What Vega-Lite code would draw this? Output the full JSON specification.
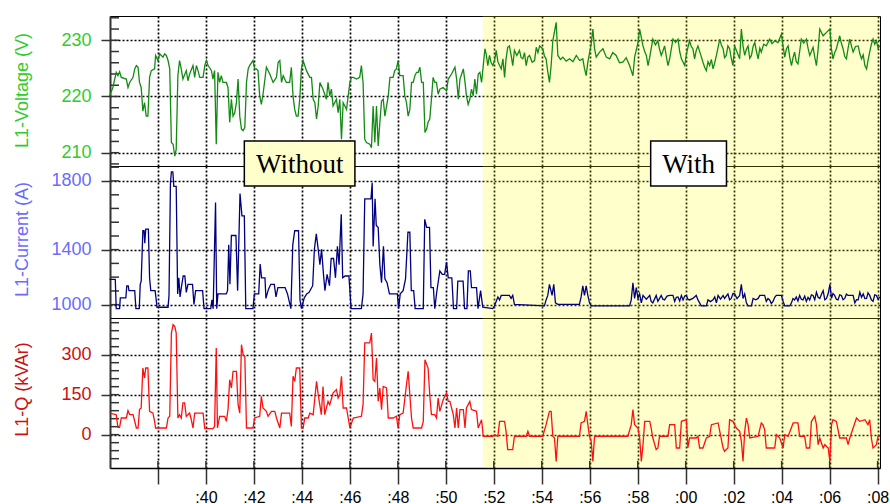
{
"$schema":"https://vega.github.io/schema/vega-lite/v6.json",
"padding":{"left":12,"top":15,"right":0,"bottom":0},
"spacing":0,
"bounds":"flush",
"config":{
 "view":{"stroke":"#000","strokeWidth":1},
 "axis":{"gridColor":"#000","gridDash":[2,2],"gridWidth":1.7,"gridOpacity":1,"domainColor":"#333","tickColor":"#333","tickWidth":1.5,"labelFont":"Liberation Sans","titleFont":"Liberation Sans","titleFontWeight":"normal","labelFontSize":18,"titleFontSize":18,"labelFlush":false}
},
"datasets":{
"volt":[{"t":35.98,"v":220.1},{"t":36.12,"v":221.6},{"t":36.26,"v":224.3},{"t":36.33,"v":223.7},{"t":36.40,"v":224.4},{"t":36.47,"v":223.4},{"t":36.68,"v":223.1},{"t":36.75,"v":221.6},{"t":36.82,"v":222.5},{"t":36.96,"v":223.4},{"t":37.03,"v":224.9},{"t":37.10,"v":225.5},{"t":37.17,"v":225.2},{"t":37.23,"v":222.5},{"t":37.30,"v":221.6},{"t":37.37,"v":217.4},{"t":37.44,"v":218.9},{"t":37.51,"v":216.5},{"t":37.58,"v":216.5},{"t":37.65,"v":223.4},{"t":37.72,"v":224.6},{"t":37.86,"v":224.9},{"t":37.90,"v":227.3},{"t":38.00,"v":226.4},{"t":38.07,"v":227.6},{"t":38.21,"v":227.0},{"t":38.28,"v":227.6},{"t":38.35,"v":227.3},{"t":38.42,"v":226.4},{"t":38.49,"v":224.9},{"t":38.56,"v":211.8},{"t":38.63,"v":211.5},{"t":38.70,"v":209.4},{"t":38.76,"v":210.6},{"t":38.83,"v":223.7},{"t":38.90,"v":226.4},{"t":38.97,"v":224.9},{"t":39.04,"v":223.1},{"t":39.18,"v":224.6},{"t":39.25,"v":222.8},{"t":39.32,"v":224.0},{"t":39.46,"v":225.5},{"t":39.53,"v":223.4},{"t":39.60,"v":225.5},{"t":39.67,"v":224.6},{"t":39.74,"v":223.4},{"t":39.88,"v":223.4},{"t":39.95,"v":225.5},{"t":40.02,"v":226.4},{"t":40.09,"v":225.5},{"t":40.23,"v":224.6},{"t":40.29,"v":223.1},{"t":40.36,"v":224.6},{"t":40.43,"v":211.5},{"t":40.50,"v":224.3},{"t":40.57,"v":222.5},{"t":40.64,"v":223.7},{"t":40.71,"v":222.5},{"t":40.85,"v":222.5},{"t":40.92,"v":221.6},{"t":40.99,"v":215.4},{"t":41.06,"v":219.5},{"t":41.13,"v":216.5},{"t":41.20,"v":217.1},{"t":41.27,"v":218.9},{"t":41.34,"v":223.1},{"t":41.41,"v":216.5},{"t":41.48,"v":214.2},{"t":41.55,"v":213.9},{"t":41.62,"v":214.5},{"t":41.69,"v":222.5},{"t":41.76,"v":224.9},{"t":41.82,"v":225.5},{"t":41.96,"v":226.4},{"t":42.03,"v":224.9},{"t":42.10,"v":224.9},{"t":42.17,"v":224.6},{"t":42.24,"v":220.1},{"t":42.31,"v":218.6},{"t":42.38,"v":220.4},{"t":42.52,"v":225.2},{"t":42.66,"v":224.0},{"t":42.80,"v":222.5},{"t":42.94,"v":223.4},{"t":43.01,"v":226.1},{"t":43.08,"v":226.4},{"t":43.15,"v":222.5},{"t":43.22,"v":223.7},{"t":43.35,"v":222.5},{"t":43.49,"v":222.5},{"t":43.56,"v":225.2},{"t":43.63,"v":220.1},{"t":43.70,"v":217.7},{"t":43.77,"v":216.5},{"t":43.84,"v":216.5},{"t":43.91,"v":219.5},{"t":43.98,"v":224.9},{"t":44.05,"v":226.4},{"t":44.19,"v":224.6},{"t":44.33,"v":223.4},{"t":44.40,"v":223.4},{"t":44.47,"v":219.5},{"t":44.54,"v":218.9},{"t":44.61,"v":216.0},{"t":44.68,"v":218.3},{"t":44.75,"v":222.5},{"t":44.88,"v":221.3},{"t":45.02,"v":219.5},{"t":45.09,"v":222.5},{"t":45.16,"v":220.1},{"t":45.23,"v":221.3},{"t":45.30,"v":218.3},{"t":45.44,"v":219.5},{"t":45.51,"v":217.1},{"t":45.58,"v":219.5},{"t":45.65,"v":212.4},{"t":45.72,"v":218.9},{"t":45.79,"v":218.3},{"t":45.86,"v":217.7},{"t":45.93,"v":220.1},{"t":46.00,"v":222.5},{"t":46.07,"v":223.4},{"t":46.14,"v":223.4},{"t":46.28,"v":223.1},{"t":46.41,"v":223.4},{"t":46.48,"v":225.5},{"t":46.55,"v":222.5},{"t":46.62,"v":212.4},{"t":46.69,"v":211.8},{"t":46.83,"v":211.5},{"t":46.90,"v":210.9},{"t":46.97,"v":218.3},{"t":47.04,"v":211.8},{"t":47.11,"v":218.3},{"t":47.18,"v":211.2},{"t":47.25,"v":215.4},{"t":47.32,"v":219.2},{"t":47.39,"v":219.5},{"t":47.46,"v":216.5},{"t":47.53,"v":218.3},{"t":47.60,"v":220.1},{"t":47.67,"v":223.4},{"t":47.80,"v":223.4},{"t":47.87,"v":224.6},{"t":47.94,"v":224.9},{"t":48.01,"v":226.4},{"t":48.08,"v":223.7},{"t":48.22,"v":223.7},{"t":48.29,"v":220.1},{"t":48.36,"v":218.9},{"t":48.43,"v":216.5},{"t":48.50,"v":217.7},{"t":48.57,"v":222.5},{"t":48.64,"v":222.5},{"t":48.71,"v":223.7},{"t":48.78,"v":224.3},{"t":48.85,"v":224.3},{"t":48.92,"v":225.2},{"t":48.99,"v":222.5},{"t":49.06,"v":222.5},{"t":49.13,"v":213.6},{"t":49.20,"v":214.2},{"t":49.26,"v":215.4},{"t":49.33,"v":216.0},{"t":49.40,"v":219.5},{"t":49.47,"v":223.4},{"t":49.54,"v":222.5},{"t":49.61,"v":222.5},{"t":49.68,"v":220.4},{"t":49.75,"v":221.3},{"t":49.89,"v":221.6},{"t":50.03,"v":221.0},{"t":50.10,"v":223.1},{"t":50.24,"v":224.0},{"t":50.38,"v":225.2},{"t":50.45,"v":223.1},{"t":50.52,"v":219.5},{"t":50.59,"v":223.1},{"t":50.73,"v":224.9},{"t":50.80,"v":222.5},{"t":50.86,"v":220.1},{"t":50.93,"v":218.6},{"t":51.00,"v":219.5},{"t":51.07,"v":221.3},{"t":51.14,"v":220.1},{"t":51.21,"v":223.1},{"t":51.28,"v":220.4},{"t":51.35,"v":224.0},{"t":51.42,"v":224.3},{"t":51.49,"v":222.5},{"t":51.56,"v":225.5},{"t":51.63,"v":228.5},{"t":51.68,"v":227.6},{"t":51.75,"v":225.5},{"t":51.82,"v":227.3},{"t":51.89,"v":226.0},{"t":51.96,"v":225.5},{"t":52.03,"v":226.4},{"t":52.10,"v":228.2},{"t":52.17,"v":226.2},{"t":52.24,"v":225.5},{"t":52.31,"v":224.9},{"t":52.38,"v":226.7},{"t":52.45,"v":223.4},{"t":52.51,"v":226.7},{"t":52.58,"v":228.75},{"t":52.65,"v":229.0},{"t":52.72,"v":227.4},{"t":52.79,"v":225.5},{"t":52.86,"v":228.2},{"t":52.96,"v":227.3},{"t":53.07,"v":228.2},{"t":53.14,"v":226.9},{"t":53.21,"v":226.7},{"t":53.28,"v":227.8},{"t":53.35,"v":225.5},{"t":53.42,"v":227.0},{"t":53.49,"v":227.3},{"t":53.60,"v":226.1},{"t":53.70,"v":226.4},{"t":53.77,"v":228.75},{"t":53.84,"v":227.8},{"t":53.91,"v":229.0},{"t":54.04,"v":228.5},{"t":54.11,"v":227.2},{"t":54.18,"v":226.7},{"t":54.25,"v":224.4},{"t":54.32,"v":222.5},{"t":54.39,"v":225.5},{"t":54.46,"v":229.9},{"t":54.60,"v":233.2},{"t":54.67,"v":227.3},{"t":54.78,"v":226.6},{"t":54.88,"v":227.0},{"t":55.02,"v":226.3},{"t":55.16,"v":226.7},{"t":55.30,"v":226.2},{"t":55.44,"v":227.3},{"t":55.58,"v":226.4},{"t":55.71,"v":226.7},{"t":55.78,"v":225.0},{"t":55.85,"v":223.7},{"t":55.92,"v":226.1},{"t":56.06,"v":229.3},{"t":56.13,"v":232.0},{"t":56.20,"v":228.5},{"t":56.27,"v":227.0},{"t":56.41,"v":227.9},{"t":56.55,"v":228.5},{"t":56.69,"v":227.0},{"t":56.83,"v":226.7},{"t":56.96,"v":227.8},{"t":57.10,"v":227.3},{"t":57.24,"v":226.0},{"t":57.38,"v":226.1},{"t":57.52,"v":226.9},{"t":57.66,"v":225.5},{"t":57.73,"v":224.6},{"t":57.80,"v":223.7},{"t":57.87,"v":227.0},{"t":58.01,"v":229.6},{"t":58.08,"v":232.0},{"t":58.22,"v":229.0},{"t":58.29,"v":228.0},{"t":58.36,"v":227.3},{"t":58.43,"v":225.5},{"t":58.50,"v":227.0},{"t":58.63,"v":230.2},{"t":58.74,"v":229.2},{"t":58.84,"v":229.9},{"t":58.91,"v":228.4},{"t":58.98,"v":227.3},{"t":59.05,"v":228.1},{"t":59.12,"v":229.0},{"t":59.19,"v":227.2},{"t":59.26,"v":225.5},{"t":59.33,"v":226.7},{"t":59.47,"v":230.2},{"t":59.58,"v":229.6},{"t":59.68,"v":230.2},{"t":59.75,"v":228.0},{"t":59.82,"v":226.7},{"t":59.96,"v":225.5},{"t":60.03,"v":227.6},{"t":60.16,"v":229.9},{"t":60.23,"v":228.9},{"t":60.30,"v":228.5},{"t":60.37,"v":226.7},{"t":60.44,"v":228.2},{"t":60.51,"v":229.0},{"t":60.62,"v":227.5},{"t":60.72,"v":226.1},{"t":60.79,"v":225.2},{"t":60.86,"v":224.6},{"t":60.93,"v":226.2},{"t":61.00,"v":225.5},{"t":61.07,"v":226.6},{"t":61.14,"v":224.9},{"t":61.21,"v":226.0},{"t":61.28,"v":227.3},{"t":61.42,"v":230.2},{"t":61.49,"v":229.1},{"t":61.56,"v":228.5},{"t":61.62,"v":226.9},{"t":61.69,"v":227.3},{"t":61.76,"v":229.0},{"t":61.83,"v":228.5},{"t":61.90,"v":226.8},{"t":61.97,"v":225.5},{"t":62.04,"v":229.0},{"t":62.14,"v":227.9},{"t":62.25,"v":226.7},{"t":62.32,"v":232.0},{"t":62.39,"v":229.0},{"t":62.46,"v":227.3},{"t":62.53,"v":228.4},{"t":62.60,"v":229.0},{"t":62.67,"v":226.8},{"t":62.74,"v":227.3},{"t":62.81,"v":228.9},{"t":62.88,"v":229.6},{"t":62.95,"v":228.0},{"t":63.02,"v":226.7},{"t":63.09,"v":228.6},{"t":63.15,"v":227.9},{"t":63.25,"v":229.3},{"t":63.36,"v":229.0},{"t":63.50,"v":230.2},{"t":63.60,"v":229.4},{"t":63.71,"v":229.9},{"t":63.85,"v":229.6},{"t":63.99,"v":231.1},{"t":64.06,"v":228.9},{"t":64.13,"v":227.0},{"t":64.20,"v":228.5},{"t":64.27,"v":229.0},{"t":64.34,"v":226.9},{"t":64.41,"v":225.5},{"t":64.48,"v":227.0},{"t":64.54,"v":227.9},{"t":64.61,"v":226.2},{"t":64.68,"v":225.8},{"t":64.75,"v":228.0},{"t":64.82,"v":230.2},{"t":64.92,"v":229.5},{"t":65.03,"v":230.2},{"t":65.10,"v":228.6},{"t":65.17,"v":227.3},{"t":65.24,"v":228.0},{"t":65.31,"v":228.75},{"t":65.38,"v":227.0},{"t":65.45,"v":225.5},{"t":65.52,"v":228.4},{"t":65.59,"v":232.0},{"t":65.73,"v":230.8},{"t":65.87,"v":231.4},{"t":66.01,"v":232.0},{"t":66.07,"v":228.6},{"t":66.14,"v":226.7},{"t":66.21,"v":227.8},{"t":66.28,"v":228.5},{"t":66.42,"v":230.8},{"t":66.49,"v":229.5},{"t":66.56,"v":228.5},{"t":66.63,"v":227.1},{"t":66.70,"v":226.7},{"t":66.77,"v":228.6},{"t":66.84,"v":230.2},{"t":66.91,"v":229.0},{"t":66.98,"v":227.9},{"t":67.08,"v":228.9},{"t":67.19,"v":229.0},{"t":67.26,"v":227.6},{"t":67.33,"v":226.7},{"t":67.40,"v":227.4},{"t":67.47,"v":225.5},{"t":67.54,"v":224.9},{"t":67.60,"v":226.4},{"t":67.67,"v":227.9},{"t":67.74,"v":229.3},{"t":67.81,"v":230.2},{"t":67.88,"v":229.3},{"t":67.95,"v":229.9},{"t":68.02,"v":228.6},{"t":68.09,"v":229.0}],
"cur":[{"t":35.98,"v":1196},{"t":36.22,"v":1196},{"t":36.26,"v":966},{"t":36.40,"v":966},{"t":36.43,"v":1056},{"t":36.66,"v":1056},{"t":36.70,"v":1148},{"t":36.76,"v":1148},{"t":36.79,"v":1112},{"t":37.03,"v":1112},{"t":37.08,"v":966},{"t":37.22,"v":966},{"t":37.26,"v":1160},{"t":37.30,"v":1184},{"t":37.37,"v":1518},{"t":37.42,"v":1518},{"t":37.45,"v":1441},{"t":37.49,"v":1528},{"t":37.60,"v":1528},{"t":37.65,"v":1208},{"t":37.70,"v":1112},{"t":37.88,"v":1112},{"t":37.92,"v":1051},{"t":37.96,"v":978},{"t":38.42,"v":978},{"t":38.46,"v":1075},{"t":38.52,"v":1790},{"t":38.56,"v":1848},{"t":38.62,"v":1848},{"t":38.66,"v":1771},{"t":38.76,"v":1771},{"t":38.82,"v":1087},{"t":38.87,"v":1208},{"t":38.92,"v":1063},{"t":38.97,"v":1130},{"t":39.05,"v":1221},{"t":39.12,"v":1221},{"t":39.18,"v":1099},{"t":39.25,"v":1160},{"t":39.44,"v":1160},{"t":39.50,"v":1002},{"t":39.57,"v":1112},{"t":39.86,"v":1112},{"t":39.92,"v":966},{"t":40.20,"v":966},{"t":40.25,"v":1039},{"t":40.30,"v":966},{"t":40.40,"v":1683},{"t":40.45,"v":966},{"t":40.50,"v":1087},{"t":40.85,"v":1087},{"t":40.90,"v":1112},{"t":40.95,"v":1431},{"t":41.00,"v":1160},{"t":41.06,"v":1489},{"t":41.25,"v":1489},{"t":41.32,"v":1112},{"t":41.42,"v":1732},{"t":41.50,"v":1606},{"t":41.60,"v":1606},{"t":41.66,"v":966},{"t":41.96,"v":966},{"t":42.02,"v":1087},{"t":42.20,"v":1087},{"t":42.26,"v":1305},{"t":42.32,"v":1208},{"t":42.46,"v":1208},{"t":42.50,"v":1051},{"t":42.60,"v":1120},{"t":42.70,"v":1160},{"t":42.85,"v":1160},{"t":42.92,"v":1063},{"t":43.00,"v":1136},{"t":43.30,"v":1136},{"t":43.40,"v":1087},{"t":43.54,"v":966},{"t":43.62,"v":1431},{"t":43.70,"v":1518},{"t":43.86,"v":1518},{"t":43.92,"v":1040},{"t":43.98,"v":966},{"t":44.10,"v":1056},{"t":44.20,"v":1087},{"t":44.30,"v":1099},{"t":44.45,"v":1150},{"t":44.52,"v":1402},{"t":44.60,"v":1499},{"t":44.68,"v":1402},{"t":44.75,"v":1300},{"t":44.82,"v":1402},{"t":44.90,"v":1233},{"t":44.96,"v":1112},{"t":45.05,"v":1233},{"t":45.15,"v":1150},{"t":45.22,"v":1342},{"t":45.32,"v":1342},{"t":45.40,"v":1208},{"t":45.48,"v":1421},{"t":45.55,"v":1300},{"t":45.64,"v":1615},{"t":45.70,"v":1208},{"t":45.80,"v":1221},{"t":45.96,"v":1221},{"t":46.05,"v":966},{"t":46.48,"v":966},{"t":46.55,"v":1087},{"t":46.62,"v":1703},{"t":46.88,"v":1703},{"t":46.93,"v":1790},{"t":46.97,"v":1421},{"t":47.05,"v":1703},{"t":47.10,"v":1550},{"t":47.18,"v":1538},{"t":47.25,"v":1300},{"t":47.32,"v":1172},{"t":47.40,"v":1421},{"t":47.46,"v":1200},{"t":47.55,"v":1172},{"t":47.65,"v":1087},{"t":47.98,"v":1087},{"t":48.03,"v":966},{"t":48.10,"v":1087},{"t":48.22,"v":1112},{"t":48.32,"v":1200},{"t":48.42,"v":1509},{"t":48.50,"v":1509},{"t":48.56,"v":1112},{"t":48.66,"v":1112},{"t":48.72,"v":966},{"t":49.06,"v":966},{"t":49.12,"v":1586},{"t":49.20,"v":1538},{"t":49.32,"v":1538},{"t":49.38,"v":1136},{"t":49.48,"v":1136},{"t":49.54,"v":966},{"t":49.62,"v":1100},{"t":49.75,"v":1257},{"t":49.85,"v":1233},{"t":49.95,"v":1233},{"t":50.03,"v":1318},{"t":50.10,"v":1208},{"t":50.25,"v":1208},{"t":50.32,"v":966},{"t":50.45,"v":966},{"t":50.50,"v":1184},{"t":50.72,"v":1184},{"t":50.78,"v":966},{"t":50.88,"v":966},{"t":50.94,"v":1257},{"t":51.02,"v":1257},{"t":51.07,"v":1136},{"t":51.28,"v":1136},{"t":51.34,"v":966},{"t":51.45,"v":1112},{"t":51.54,"v":978},{"t":51.96,"v":966},{"t":52.03,"v":990},{"t":52.17,"v":1063},{"t":52.24,"v":1039},{"t":52.31,"v":1075},{"t":52.65,"v":1075},{"t":52.72,"v":1051},{"t":52.79,"v":1075},{"t":52.86,"v":1002},{"t":54.11,"v":990},{"t":54.18,"v":1039},{"t":54.25,"v":1075},{"t":54.32,"v":1160},{"t":54.43,"v":1075},{"t":54.50,"v":1160},{"t":54.57,"v":1015},{"t":54.67,"v":1002},{"t":55.57,"v":1002},{"t":55.64,"v":1063},{"t":55.71,"v":1148},{"t":55.78,"v":1075},{"t":55.85,"v":1148},{"t":55.92,"v":1075},{"t":55.99,"v":1015},{"t":56.06,"v":990},{"t":57.66,"v":990},{"t":57.73,"v":1039},{"t":57.80,"v":1172},{"t":57.87,"v":1051},{"t":57.94,"v":1136},{"t":58.01,"v":1051},{"t":58.08,"v":1087},{"t":58.15,"v":1015},{"t":58.22,"v":1075},{"t":58.36,"v":1045},{"t":58.50,"v":1075},{"t":58.56,"v":1027},{"t":58.63,"v":1015},{"t":58.77,"v":1075},{"t":58.84,"v":1027},{"t":58.98,"v":1075},{"t":59.05,"v":1045},{"t":59.12,"v":1039},{"t":59.22,"v":1070},{"t":59.33,"v":1075},{"t":59.47,"v":1075},{"t":59.54,"v":1027},{"t":59.61,"v":1060},{"t":59.68,"v":1063},{"t":59.75,"v":1030},{"t":59.82,"v":1075},{"t":59.89,"v":1039},{"t":59.96,"v":1070},{"t":60.03,"v":1075},{"t":60.09,"v":1045},{"t":60.16,"v":1039},{"t":60.30,"v":1051},{"t":60.44,"v":1075},{"t":60.51,"v":1039},{"t":60.65,"v":990},{"t":60.86,"v":990},{"t":60.93,"v":1039},{"t":61.03,"v":1025},{"t":61.14,"v":1039},{"t":61.21,"v":1063},{"t":61.28,"v":1015},{"t":61.35,"v":1075},{"t":61.45,"v":1045},{"t":61.56,"v":1075},{"t":61.62,"v":1051},{"t":61.69,"v":1070},{"t":61.76,"v":1087},{"t":61.83,"v":1040},{"t":61.90,"v":1051},{"t":61.97,"v":1090},{"t":62.04,"v":1087},{"t":62.14,"v":1050},{"t":62.25,"v":1075},{"t":62.32,"v":1160},{"t":62.39,"v":1051},{"t":62.46,"v":1087},{"t":62.53,"v":1015},{"t":62.60,"v":990},{"t":62.74,"v":990},{"t":62.81,"v":1051},{"t":62.92,"v":1040},{"t":63.02,"v":1051},{"t":63.09,"v":1075},{"t":63.29,"v":1075},{"t":63.36,"v":1027},{"t":63.43,"v":1050},{"t":63.50,"v":1039},{"t":63.57,"v":1010},{"t":63.64,"v":1027},{"t":63.71,"v":1060},{"t":63.78,"v":1075},{"t":63.99,"v":1075},{"t":64.06,"v":1027},{"t":64.13,"v":990},{"t":64.34,"v":990},{"t":64.41,"v":1015},{"t":64.47,"v":1050},{"t":64.54,"v":1039},{"t":64.61,"v":1063},{"t":64.68,"v":1030},{"t":64.75,"v":1075},{"t":64.82,"v":1045},{"t":64.89,"v":1039},{"t":64.96,"v":1070},{"t":65.03,"v":1027},{"t":65.10,"v":1060},{"t":65.17,"v":1039},{"t":65.24,"v":1080},{"t":65.31,"v":1075},{"t":65.38,"v":1040},{"t":65.45,"v":1100},{"t":65.52,"v":1060},{"t":65.59,"v":1051},{"t":65.66,"v":1085},{"t":65.73,"v":1112},{"t":65.80,"v":1040},{"t":65.87,"v":1051},{"t":65.94,"v":1090},{"t":66.01,"v":1160},{"t":66.08,"v":1051},{"t":66.14,"v":1090},{"t":66.21,"v":1075},{"t":66.28,"v":1045},{"t":66.35,"v":1039},{"t":66.42,"v":1080},{"t":66.49,"v":1075},{"t":66.56,"v":1040},{"t":66.63,"v":1051},{"t":66.70,"v":1085},{"t":66.77,"v":1075},{"t":66.98,"v":1075},{"t":67.05,"v":1015},{"t":67.12,"v":1040},{"t":67.19,"v":1039},{"t":67.26,"v":1100},{"t":67.33,"v":1060},{"t":67.40,"v":1087},{"t":67.47,"v":1050},{"t":67.54,"v":1051},{"t":67.60,"v":1095},{"t":67.67,"v":1075},{"t":67.74,"v":1040},{"t":67.81,"v":1027},{"t":67.88,"v":1080},{"t":67.95,"v":1075},{"t":68.02,"v":1045},{"t":68.09,"v":1063}],
"q":[{"t":35.98,"v":81},{"t":36.26,"v":75},{"t":36.33,"v":27.5},{"t":36.40,"v":27.5},{"t":36.47,"v":62.5},{"t":36.68,"v":62.5},{"t":36.75,"v":90},{"t":36.82,"v":75},{"t":36.96,"v":75},{"t":37.10,"v":25},{"t":37.17,"v":25},{"t":37.23,"v":94},{"t":37.30,"v":100},{"t":37.37,"v":250},{"t":37.44,"v":212.5},{"t":37.49,"v":250},{"t":37.58,"v":250},{"t":37.65,"v":87.5},{"t":37.79,"v":81},{"t":37.86,"v":50},{"t":37.90,"v":25},{"t":38.35,"v":25},{"t":38.42,"v":62.5},{"t":38.49,"v":69},{"t":38.56,"v":381},{"t":38.63,"v":412.5},{"t":38.70,"v":406},{"t":38.76,"v":381},{"t":38.83,"v":62.5},{"t":38.90,"v":75},{"t":38.97,"v":62.5},{"t":39.04,"v":119},{"t":39.11,"v":119},{"t":39.18,"v":69},{"t":39.32,"v":81},{"t":39.39,"v":56},{"t":39.46,"v":25},{"t":39.53,"v":81},{"t":39.88,"v":81},{"t":39.95,"v":22.5},{"t":40.29,"v":22.5},{"t":40.36,"v":31},{"t":40.43,"v":325},{"t":40.48,"v":25},{"t":40.57,"v":69},{"t":40.78,"v":69},{"t":40.85,"v":50},{"t":40.92,"v":94},{"t":40.99,"v":206},{"t":41.06,"v":175},{"t":41.13,"v":237.5},{"t":41.27,"v":237.5},{"t":41.34,"v":112.5},{"t":41.41,"v":81},{"t":41.48,"v":337.5},{"t":41.55,"v":300},{"t":41.62,"v":294},{"t":41.69,"v":25},{"t":41.96,"v":25},{"t":42.03,"v":62.5},{"t":42.24,"v":69},{"t":42.31,"v":144},{"t":42.38,"v":100},{"t":42.52,"v":87.5},{"t":42.59,"v":69},{"t":42.73,"v":87.5},{"t":42.87,"v":87.5},{"t":42.94,"v":62.5},{"t":43.08,"v":25},{"t":43.15,"v":81},{"t":43.49,"v":81},{"t":43.56,"v":31},{"t":43.63,"v":219},{"t":43.70,"v":200},{"t":43.77,"v":250},{"t":43.91,"v":250},{"t":43.98,"v":25},{"t":44.05,"v":25},{"t":44.12,"v":62.5},{"t":44.26,"v":62.5},{"t":44.33,"v":81},{"t":44.47,"v":75},{"t":44.54,"v":137.5},{"t":44.61,"v":200},{"t":44.68,"v":150},{"t":44.81,"v":75},{"t":44.88,"v":181},{"t":44.95,"v":75},{"t":45.09,"v":125},{"t":45.16,"v":112.5},{"t":45.30,"v":156},{"t":45.44,"v":169},{"t":45.51,"v":137.5},{"t":45.58,"v":150},{"t":45.65,"v":219},{"t":45.72,"v":100},{"t":45.86,"v":100},{"t":45.93,"v":62.5},{"t":46.00,"v":25},{"t":46.14,"v":62.5},{"t":46.48,"v":69},{"t":46.55,"v":112.5},{"t":46.62,"v":344},{"t":46.83,"v":344},{"t":46.90,"v":381},{"t":46.97,"v":206},{"t":47.04,"v":200},{"t":47.11,"v":287.5},{"t":47.18,"v":125},{"t":47.25,"v":175},{"t":47.32,"v":94},{"t":47.39,"v":181},{"t":47.53,"v":175},{"t":47.60,"v":62.5},{"t":47.80,"v":62.5},{"t":47.94,"v":69},{"t":48.01,"v":25},{"t":48.08,"v":75},{"t":48.22,"v":81},{"t":48.36,"v":187.5},{"t":48.43,"v":237.5},{"t":48.50,"v":150},{"t":48.57,"v":62.5},{"t":48.64,"v":25},{"t":48.99,"v":25},{"t":49.06,"v":50},{"t":49.13,"v":281},{"t":49.26,"v":250},{"t":49.33,"v":150},{"t":49.40,"v":75},{"t":49.54,"v":75},{"t":49.61,"v":62.5},{"t":49.68,"v":137.5},{"t":49.75,"v":87.5},{"t":49.89,"v":131},{"t":50.03,"v":156},{"t":50.10,"v":125},{"t":50.17,"v":125},{"t":50.31,"v":75},{"t":50.38,"v":25},{"t":50.45,"v":100},{"t":50.52,"v":25},{"t":50.59,"v":94},{"t":50.73,"v":94},{"t":50.80,"v":25},{"t":50.86,"v":100},{"t":51.00,"v":125},{"t":51.07,"v":94},{"t":51.28,"v":87.5},{"t":51.35,"v":25},{"t":51.49,"v":56},{"t":51.56,"v":-6},{"t":51.96,"v":-6},{"t":52.03,"v":0},{"t":52.17,"v":-6},{"t":52.24,"v":50},{"t":52.45,"v":50},{"t":52.51,"v":12.5},{"t":52.58,"v":-56},{"t":52.79,"v":-56},{"t":52.86,"v":-6},{"t":53.35,"v":-6},{"t":53.42,"v":12.5},{"t":53.49,"v":-6},{"t":54.04,"v":-6},{"t":54.18,"v":37.5},{"t":54.32,"v":87.5},{"t":54.39,"v":87.5},{"t":54.46,"v":-6},{"t":54.53,"v":-12.5},{"t":54.60,"v":-100},{"t":54.67,"v":-6},{"t":55.57,"v":-6},{"t":55.64,"v":44},{"t":55.78,"v":50},{"t":55.85,"v":87.5},{"t":55.92,"v":37.5},{"t":55.99,"v":-6},{"t":56.06,"v":-25},{"t":56.13,"v":-100},{"t":56.20,"v":-6},{"t":57.59,"v":-6},{"t":57.73,"v":37.5},{"t":57.80,"v":94},{"t":57.87,"v":37.5},{"t":58.01,"v":25},{"t":58.08,"v":-12.5},{"t":58.15,"v":-100},{"t":58.22,"v":-37.5},{"t":58.29,"v":50},{"t":58.50,"v":50},{"t":58.56,"v":25},{"t":58.63,"v":-12.5},{"t":58.77,"v":-56},{"t":58.84,"v":-50},{"t":58.91,"v":-6},{"t":59.26,"v":-6},{"t":59.33,"v":37.5},{"t":59.54,"v":37.5},{"t":59.61,"v":-50},{"t":59.75,"v":-50},{"t":59.82,"v":50},{"t":60.03,"v":56},{"t":60.09,"v":-50},{"t":60.16,"v":-12.5},{"t":60.44,"v":-12.5},{"t":60.51,"v":-6},{"t":60.58,"v":-50},{"t":60.72,"v":-50},{"t":60.86,"v":-12.5},{"t":61.00,"v":-6},{"t":61.07,"v":37.5},{"t":61.35,"v":44},{"t":61.42,"v":12.5},{"t":61.56,"v":-50},{"t":61.62,"v":-62.5},{"t":61.76,"v":-50},{"t":61.83,"v":56},{"t":61.97,"v":50},{"t":62.04,"v":37.5},{"t":62.11,"v":25},{"t":62.25,"v":12.5},{"t":62.32,"v":-25},{"t":62.39,"v":-100},{"t":62.46,"v":12.5},{"t":62.53,"v":62.5},{"t":62.60,"v":37.5},{"t":62.67,"v":-12.5},{"t":63.02,"v":-6},{"t":63.15,"v":44},{"t":63.22,"v":37.5},{"t":63.29,"v":19},{"t":63.36,"v":-50},{"t":63.71,"v":-50},{"t":63.78,"v":0},{"t":63.92,"v":-12.5},{"t":64.06,"v":-50},{"t":64.13,"v":0},{"t":64.27,"v":-6},{"t":64.48,"v":44},{"t":64.68,"v":44},{"t":64.75,"v":-6},{"t":64.96,"v":-6},{"t":65.03,"v":-50},{"t":65.17,"v":-50},{"t":65.24,"v":50},{"t":65.38,"v":69},{"t":65.45,"v":37.5},{"t":65.52,"v":-37.5},{"t":65.59,"v":-12.5},{"t":65.73,"v":-50},{"t":65.80,"v":-37.5},{"t":65.94,"v":-50},{"t":66.01,"v":-100},{"t":66.08,"v":37.5},{"t":66.14,"v":56},{"t":66.28,"v":50},{"t":66.35,"v":19},{"t":66.42,"v":-12.5},{"t":66.70,"v":-12.5},{"t":66.77,"v":-37.5},{"t":66.84,"v":-12.5},{"t":67.12,"v":62.5},{"t":67.26,"v":50},{"t":67.47,"v":56},{"t":67.60,"v":37.5},{"t":67.67,"v":56},{"t":67.74,"v":-12.5},{"t":67.81,"v":-50},{"t":67.95,"v":-37.5},{"t":68.02,"v":-6},{"t":68.09,"v":-6}],
"boxes":[{"label":"Without","x1":41.60,"x2":46.21,"y1":1773,"y2":2003,"xm":43.91,"ym":1844},{"label":"With","x1":58.54,"x2":61.70,"y1":1773,"y2":2003,"xm":60.12,"ym":1844}],
"shade":[{"a":51.54,"b":68.1}],
"vt":[{"v":208},{"v":210},{"v":212},{"v":214},{"v":216},{"v":218},{"v":220},{"v":222},{"v":224},{"v":226},{"v":228},{"v":230},{"v":232},{"v":234}],
"ct":[{"v":1000},{"v":1110},{"v":1213},{"v":1309},{"v":1400},{"v":1486},{"v":1569},{"v":1649},{"v":1725},{"v":1800},{"v":1872}],
"qt":[{"v":-90},{"v":-60},{"v":-30},{"v":0},{"v":30},{"v":60},{"v":90},{"v":120},{"v":150},{"v":180},{"v":210},{"v":240},{"v":270},{"v":300},{"v":330},{"v":360},{"v":390},{"v":420}],
"xt":[{"t":38},{"t":40},{"t":42},{"t":44},{"t":46},{"t":48},{"t":50},{"t":52},{"t":54},{"t":56},{"t":58},{"t":60},{"t":62},{"t":64},{"t":66},{"t":68}]
},
"vconcat":[
{
 "width":770,"height":150,
 "layer":[
  {"data":{"name":"shade"},"mark":{"type":"rect","fill":"#ffff00","opacity":0.2},
   "encoding":{"x":{"field":"a","type":"quantitative","scale":{"domain":[36,68.1],"nice":false,"zero":false},"axis":{"orient":"bottom","values":[38,40,42,44,46,48,50,52,54,56,58,60,62,64,66,68],"grid":true,"ticks":false,"labels":false,"domain":false,"title":null}},"x2":{"field":"b"}}},
  {"data":{"name":"vt"},"mark":{"type":"rule","color":"#333","strokeWidth":1.5},
   "encoding":{"y":{"field":"v","type":"quantitative"},"x":{"datum":36},"x2":{"datum":36.375}}},
  {"data":{"name":"volt"},"mark":{"type":"line","color":"#138a13","strokeWidth":1.3},
   "encoding":{"x":{"field":"t","type":"quantitative"},
    "y":{"field":"v","type":"quantitative","scale":{"domain":[207.63,234.32],"nice":false,"zero":false},"axis":{"orient":"left","values":[210,220,230],"grid":true,"tickSize":9,"labelPadding":10,"labelColor":"#2ecc2e","title":"L1-Voltage (V)","titleColor":"#2ecc2e","titleX":-79,"titleY":74,"titleAngle":270,"titleBaseline":"bottom","titleAlign":"center","domainWidth":2}}}}
 ]
},
{
 "width":770,"height":152,
 "layer":[
  {"data":{"name":"shade"},"mark":{"type":"rect","fill":"#ffff00","opacity":0.2},
   "encoding":{"x":{"field":"a","type":"quantitative","scale":{"domain":[36,68.1],"nice":false,"zero":false},"axis":{"orient":"bottom","values":[38,40,42,44,46,48,50,52,54,56,58,60,62,64,66,68],"grid":true,"ticks":false,"labels":false,"domain":false,"title":null}},"x2":{"field":"b"}}},
  {"data":{"name":"ct"},"mark":{"type":"rule","color":"#333","strokeWidth":1.5},
   "encoding":{"y":{"field":"v","type":"quantitative"},"x":{"datum":36},"x2":{"datum":36.375}}},
  {"data":{"name":"cur"},"mark":{"type":"line","color":"#000080","strokeWidth":1.3},
   "encoding":{"x":{"field":"t","type":"quantitative"},
    "y":{"field":"v","type":"quantitative","scale":{"type":"pow","exponent":1.772,"domain":[883,1878],"nice":false,"zero":false},"axis":{"orient":"left","values":[1000,1400,1800],"format":"d","grid":true,"tickSize":9,"labelPadding":10,"labelColor":"#6b6bff","title":"L1-Current (A)","titleColor":"#6b6bff","titleX":-79,"titleY":73,"titleAngle":270,"titleBaseline":"bottom","titleAlign":"center","domainWidth":2}}}},
  {"data":{"name":"boxes"},"mark":{"type":"rect","stroke":"#000","strokeWidth":1.5},
   "encoding":{"x":{"field":"x1","type":"quantitative"},"x2":{"field":"x2"},
    "y":{"field":"y1","type":"quantitative"},"y2":{"field":"y2"},
    "fill":{"field":"label","type":"nominal","scale":{"domain":["Without","With"],"range":["#ffffcc","#ffffff"]},"legend":null}}},
  {"data":{"name":"boxes"},"mark":{"type":"text","font":"Liberation Serif","fontSize":27,"baseline":"alphabetic","align":"center","color":"#000"},
   "encoding":{"x":{"field":"xm","type":"quantitative"},
    "y":{"field":"ym","type":"quantitative"},
    "text":{"field":"label"}}}
 ]
},
{
 "width":770,"height":150,
 "layer":[
  {"data":{"name":"shade"},"mark":{"type":"rect","fill":"#ffff00","opacity":0.2},
   "encoding":{"x":{"field":"a","type":"quantitative","scale":{"domain":[36,68.1],"nice":false,"zero":false},"axis":{"orient":"bottom","values":[38,40,42,44,46,48,50,52,54,56,58,60,62,64,66,68],"grid":true,"tickSize":16,"labelPadding":5,"labelFontSize":16,"labelColor":"#000","labelOverlap":false,"labelExpr":"datum.value == 38 ? '' : ':' + (datum.value % 60 < 10 ? '0' : '') + (datum.value % 60)","title":null,"domain":true,"domainColor":"#000","domainWidth":1.5}},"x2":{"field":"b"}}},
  {"data":{"name":"qt"},"mark":{"type":"rule","color":"#333","strokeWidth":1.5},
   "encoding":{"y":{"field":"v","type":"quantitative"},"x":{"datum":36},"x2":{"datum":36.375}}},
  {"data":{"name":"xt"},"mark":{"type":"rule","color":"#333","strokeWidth":1.5},
   "encoding":{"x":{"field":"t","type":"quantitative"},"y":{"datum":-125},"y2":{"datum":-98.75}}},
  {"data":{"name":"q"},"mark":{"type":"line","color":"#ff1010","strokeWidth":1.3},
   "encoding":{"x":{"field":"t","type":"quantitative"},
    "y":{"field":"v","type":"quantitative","scale":{"domain":[-125,437.6],"nice":false,"zero":false},"axis":{"orient":"left","values":[0,150,300],"grid":true,"tickSize":9,"labelPadding":10,"labelColor":"#cc1111","title":"L1-Q (kVAr)","titleColor":"#cc1111","titleX":-79,"titleY":71,"titleAngle":270,"titleBaseline":"bottom","titleAlign":"center","domainWidth":2}}}}
 ]
}
]
}
